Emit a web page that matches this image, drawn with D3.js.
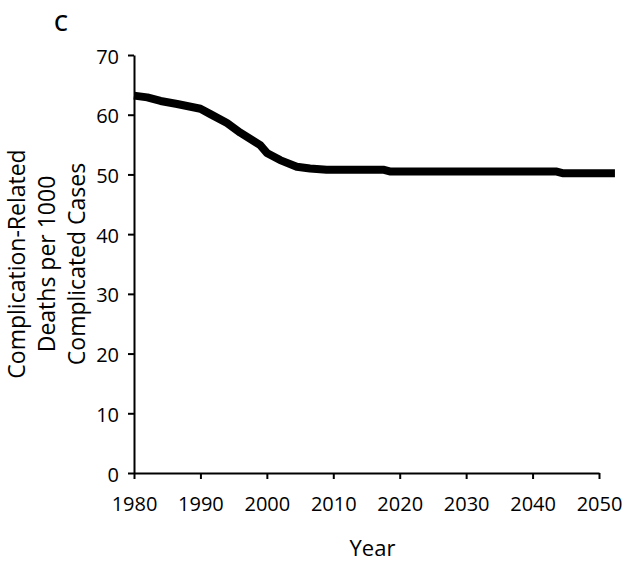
<!DOCTYPE html>
<html>
<head>
<meta charset="utf-8">
<script src="https://cdn.jsdelivr.net/npm/d3@7"></script>
<style>
  html, body { margin: 0; padding: 0; background: #fff; }
  svg { display: block; font-family: "Open Sans", sans-serif; }
</style>
</head>
<body>
<script>
const years = [1980, 1982, 1984, 1986.5, 1990, 1991.5, 1994, 1996, 1999, 2000, 2002, 2004.5, 2006.5, 2009, 2017.5, 2018.5, 2043.5, 2044.5, 2052.4];
const deathRates = [63.2, 62.9, 62.3, 61.8, 61.0, 60.1, 58.6, 57.0, 54.9, 53.6, 52.4, 51.3, 51.0, 50.8, 50.8, 50.5, 50.5, 50.2, 50.2];
const xTicks = [1980, 1990, 2000, 2010, 2020, 2030, 2040, 2050];
const yTicks = [0, 10, 20, 30, 40, 50, 60, 70];
const panelLabel = "C";
const xTitle = "Year";
const yTitleLines = ["Complication-Related", "Deaths per 1000", "Complicated Cases"];

const W = 640, H = 562;
const margin = { top: 55, right: 41, bottom: 89, left: 134 };

const svg = d3.select("body").append("svg").attr("width", W).attr("height", H);

const x = d3.scaleLinear().domain([1980, 2050]).range([margin.left, W - margin.right]);
const y = d3.scaleLinear().domain([0, 70]).range([H - margin.bottom, margin.top]);

const xAxis = svg.append("g")
  .attr("transform", `translate(0,${H - margin.bottom})`)
  .call(d3.axisBottom(x).tickValues(xTicks).tickFormat(d3.format("d")).tickSize(6).tickPadding(18).tickSizeOuter(0));
const yAxis = svg.append("g")
  .attr("transform", `translate(${margin.left},0)`)
  .call(d3.axisLeft(y).tickValues(yTicks).tickSize(6).tickPadding(9).tickSizeOuter(0));

[xAxis, yAxis].forEach(g => {
  g.selectAll(".domain").attr("stroke", "#000").attr("stroke-width", 2);
  g.selectAll(".tick line").attr("stroke", "#000").attr("stroke-width", 2);
  g.selectAll(".tick text").attr("fill", "#000").attr("font-size", 20).attr("font-family", "'Open Sans', sans-serif");
});
yAxis.selectAll(".tick text").attr("dy", "0.4em");

const data = years.map((yr, i) => ({ yr, v: deathRates[i] }));
svg.append("path")
  .datum(data)
  .attr("fill", "none")
  .attr("stroke", "#000")
  .attr("stroke-width", 8)
  .attr("stroke-linejoin", "round")
  .attr("d", d3.line().x(d => x(d.yr)).y(d => y(d.v)));

svg.append("text")
  .attr("x", (margin.left + W - margin.right) / 2 + 6)
  .attr("y", 556)
  .attr("text-anchor", "middle")
  .attr("font-size", 22)
  .attr("fill", "#000")
  .text(xTitle);

const yt = svg.append("text")
  .attr("transform", "translate(0,264) rotate(-90)")
  .attr("text-anchor", "middle")
  .attr("font-size", 23)
  .attr("fill", "#000");
yTitleLines.forEach((line, i) => {
  yt.append("tspan").attr("x", 0).attr("y", 25 + i * 30).text(line);
});

svg.append("text")
  .attr("x", 54)
  .attr("y", 31)
  .attr("font-size", 22)
  .attr("font-weight", 600)
  .attr("fill", "#000")
  .text(panelLabel);
</script>
</body>
</html>
